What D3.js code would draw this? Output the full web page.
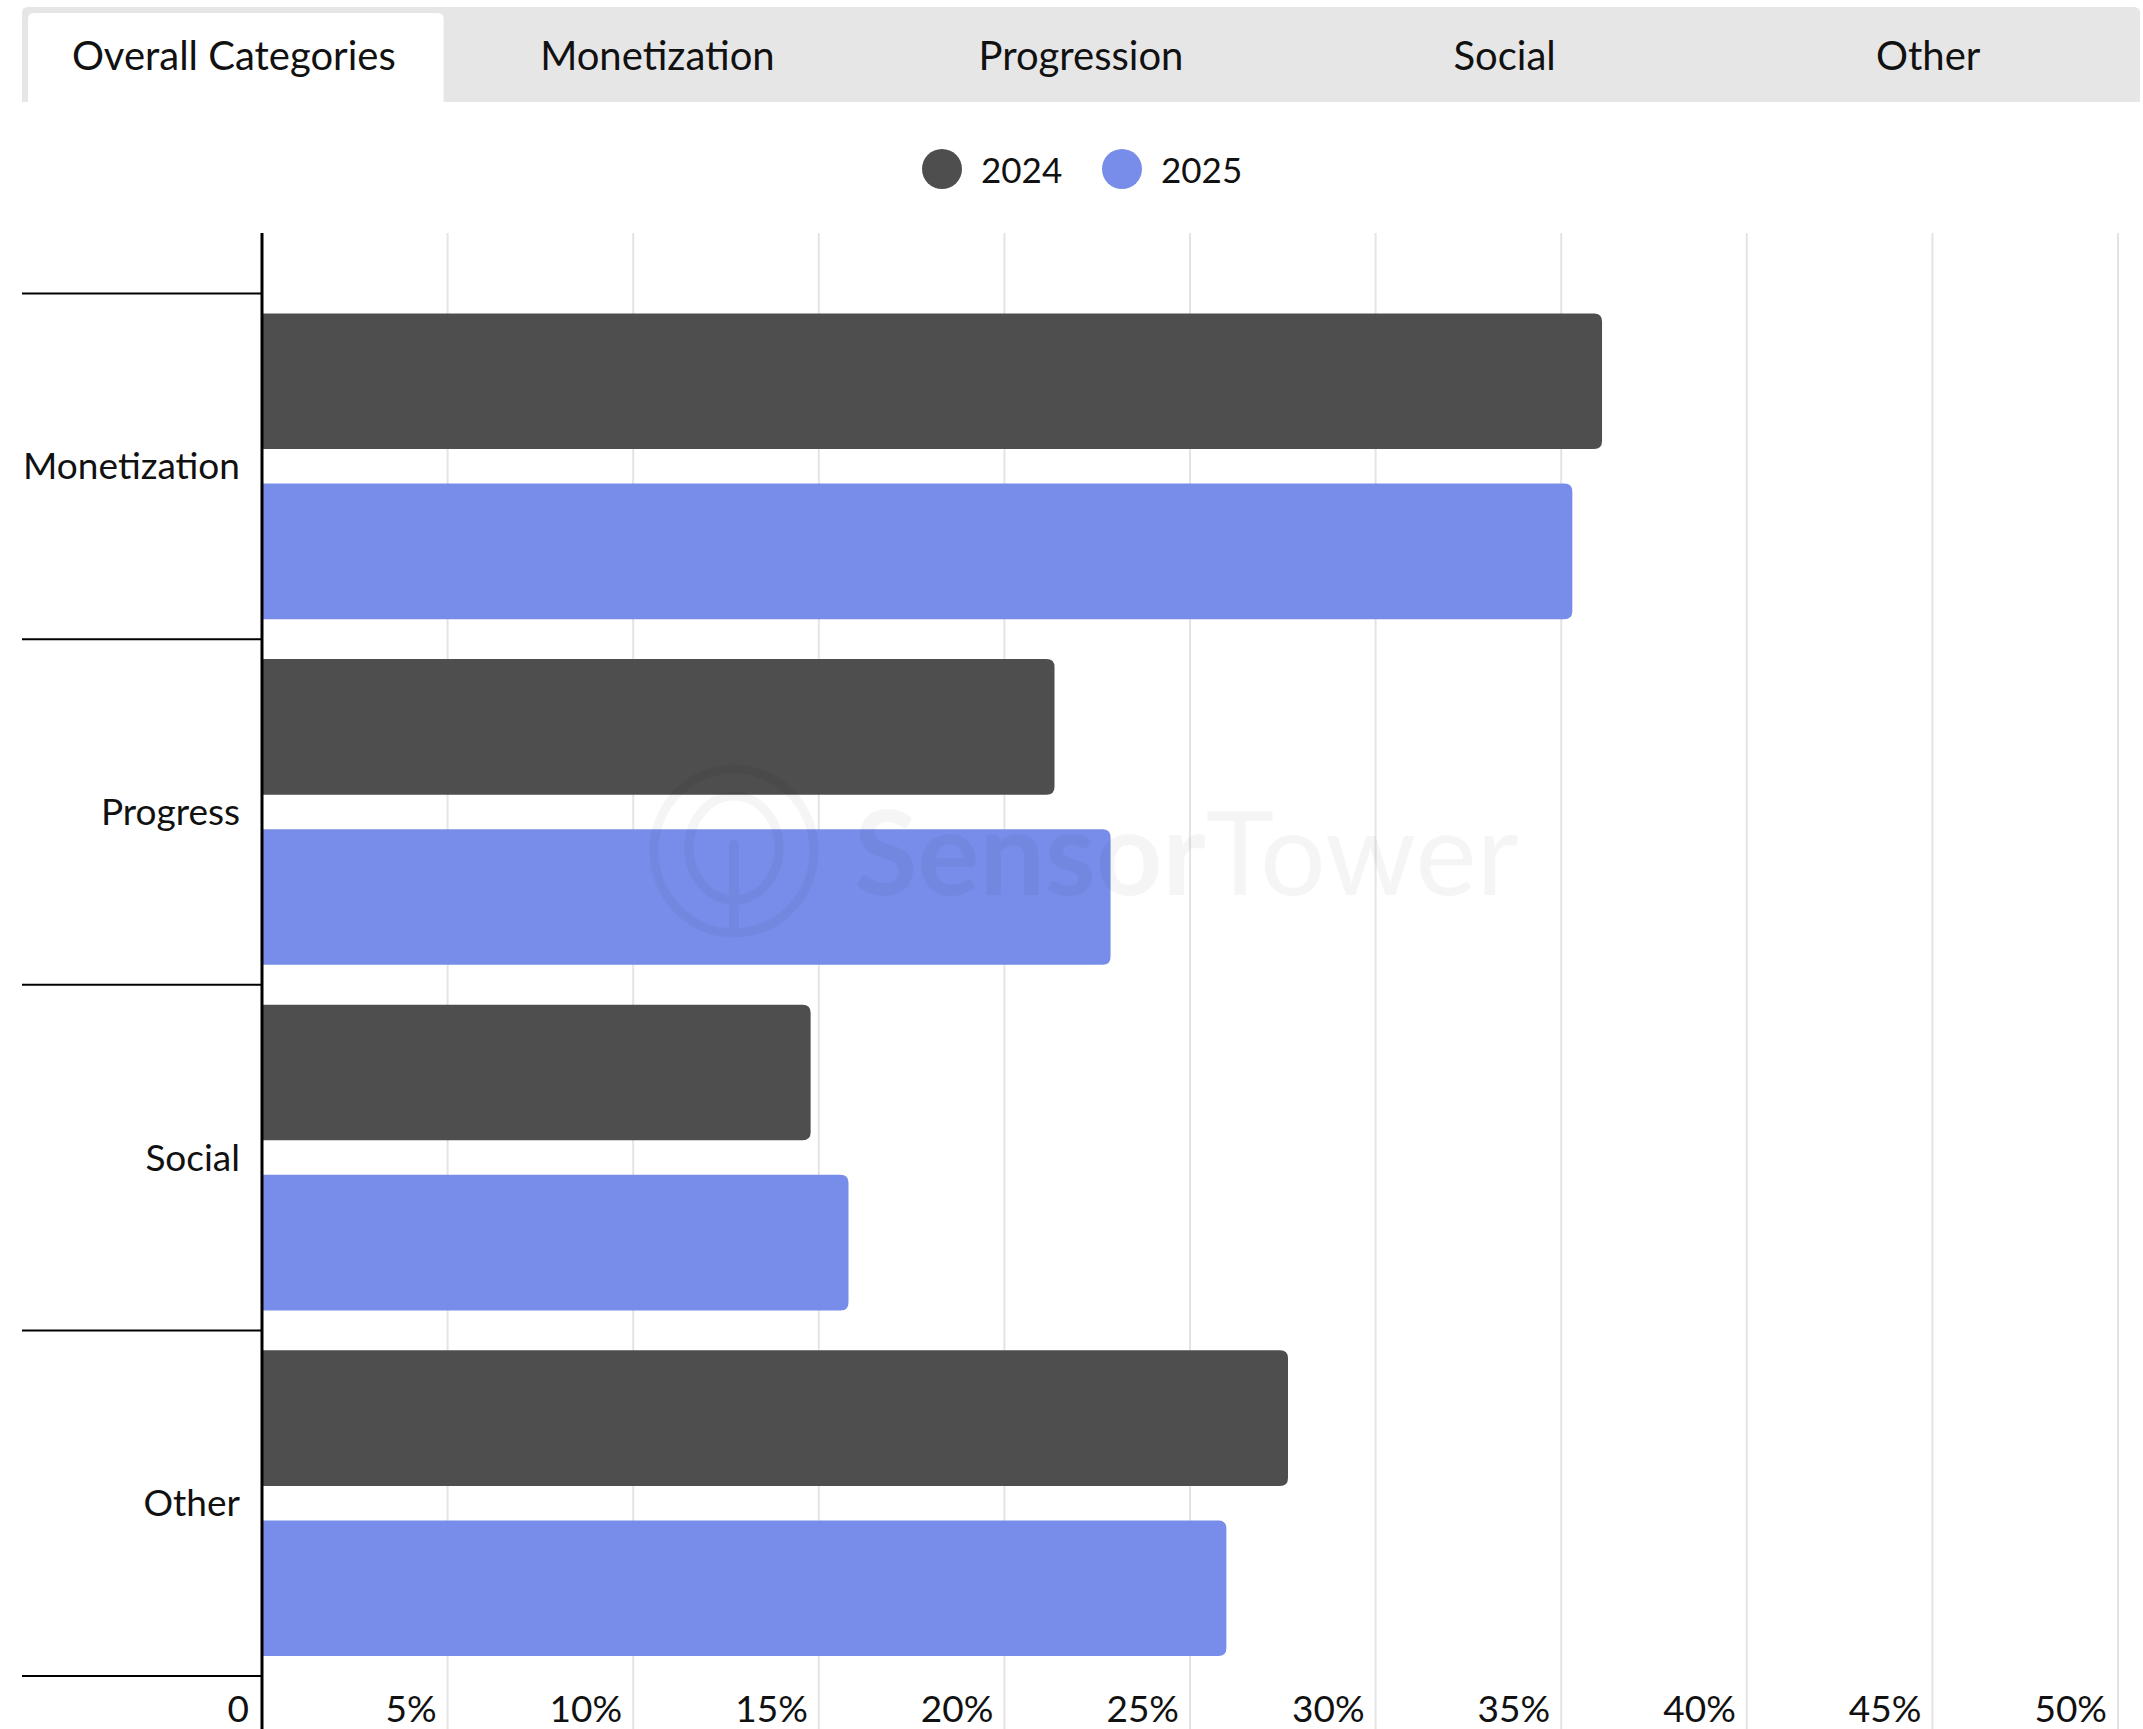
<!DOCTYPE html>
<html>
<head>
<meta charset="utf-8">
<script src="https://cdn.jsdelivr.net/npm/d3@7"></script>
<style>
  html, body { margin: 0; padding: 0; background: #fff; }
  svg { display: block; font-family: Lato, "Noto Sans", sans-serif; }
</style>
</head>
<body>
<svg id="chart" width="2143" height="1729"></svg>
<script>
// ---- data ----
const tabs = ["Overall Categories", "Monetization", "Progression", "Social", "Other"];
const categories = ["Monetization", "Progress", "Social", "Other"];
const years = ["2024", "2025"];
const values2024 = [36.1, 21.35, 14.78, 27.64];
const values2025 = [35.3, 22.86, 15.8, 25.98];
const tickValues = [0, 5, 10, 15, 20, 25, 30, 35, 40, 45, 50];
const tickLabels = ["0", "5%", "10%", "15%", "20%", "25%", "30%", "35%", "40%", "45%", "50%"];
const colors = ["#4e4e4e", "#778de9"];

const W = 2143, H = 1729;
const svg = d3.select("#chart");

// ---- tabs ----
const tabX = d3.scaleBand().domain(tabs).range([22, 2140]);
svg.append("path")
  .attr("d", `M22,102 V13 Q22,7 28,7 H2134 Q2140,7 2140,13 V102 Z`)
  .attr("fill", "#e6e6e6");
const t0 = tabX(tabs[0]);
svg.append("path")
  .attr("d", `M${t0 + 6},103 V19 Q${t0 + 6},13 ${t0 + 12},13 H${t0 + tabX.bandwidth() - 8} Q${t0 + tabX.bandwidth() - 2},13 ${t0 + tabX.bandwidth() - 2},19 V103 Z`)
  .attr("fill", "#ffffff");
svg.append("g").selectAll("text").data(tabs).join("text")
  .attr("x", d => tabX(d) + tabX.bandwidth() / 2)
  .attr("y", 70)
  .attr("text-anchor", "middle")
  .attr("font-size", 40)
  .attr("fill", "#111")
  .text(d => d);

// ---- legend ----
const legendX = [942, 1122];
const lg = svg.append("g");
years.forEach((y, i) => {
  lg.append("circle").attr("cx", legendX[i]).attr("cy", 169).attr("r", 20).attr("fill", colors[i]);
  lg.append("text").attr("x", legendX[i] + 39).attr("y", 183)
    .attr("font-size", 35).attr("fill", "#111").text(y);
});

// ---- scales ----
const x = d3.scaleLinear().domain([0, 50]).range([262, 2118]);
const y = d3.scaleBand().domain(categories).range([293.5, 1676]).paddingInner(0).paddingOuter(0);
const yi = d3.scaleBand().domain(years).range([0, y.bandwidth()]).paddingInner(0.2024).paddingOuter(0.117);

// ---- grid ----
svg.append("g").selectAll("line").data(tickValues.filter(v => v > 0)).join("line")
  .attr("x1", d => x(d)).attr("x2", d => x(d))
  .attr("y1", 233).attr("y2", H)
  .attr("stroke", "#e4e4e4").attr("stroke-width", 2);

// ---- bars ----
const r = 8;
function barPath(x0, x1, y0, h) {
  const rr = Math.min(r, (x1 - x0));
  return `M${x0},${y0} H${x1 - rr} Q${x1},${y0} ${x1},${y0 + rr} V${y0 + h - rr} Q${x1},${y0 + h} ${x1 - rr},${y0 + h} H${x0} Z`;
}
const series = [values2024, values2025];
series.forEach((vals, si) => {
  svg.append("g").selectAll("path").data(categories).join("path")
    .attr("d", (c, i) => barPath(x(0), x(vals[i]), y(c) + yi(years[si]), yi.bandwidth()))
    .attr("fill", colors[si]);
});

// ---- watermark ----
const wm = svg.append("g").attr("opacity", 0.035).attr("fill", "#000");
wm.append("ellipse").attr("cx", 734).attr("cy", 851).attr("rx", 80).attr("ry", 82)
  .attr("fill", "none").attr("stroke", "#000").attr("stroke-width", 9);
wm.append("ellipse").attr("cx", 734).attr("cy", 848).attr("rx", 45).attr("ry", 52)
  .attr("fill", "none").attr("stroke", "#000").attr("stroke-width", 9);
wm.append("line").attr("x1", 734).attr("x2", 734).attr("y1", 845).attr("y2", 930)
  .attr("stroke", "#000").attr("stroke-width", 10).attr("stroke-linecap", "round");
const wt = wm.append("text").attr("x", 854).attr("y", 895).attr("font-size", 116);
wt.append("tspan").attr("font-weight", 700).text("Sensor");
wt.append("tspan").attr("font-weight", 400).text("Tower");

// ---- left separators & labels ----
svg.append("g").selectAll("line").data(d3.range(categories.length + 1)).join("line")
  .attr("x1", 22).attr("x2", 262)
  .attr("y1", i => 293.5 + i * y.step()).attr("y2", i => 293.5 + i * y.step())
  .attr("stroke", "#000").attr("stroke-width", 2);
svg.append("g").selectAll("text").data(categories).join("text")
  .attr("x", 240)
  .attr("y", d => y(d) + y.bandwidth() / 2 + 13)
  .attr("text-anchor", "end")
  .attr("font-size", 37)
  .attr("fill", "#111")
  .text(d => d);

// ---- x axis labels ----
svg.append("g").selectAll("text").data(tickValues).join("text")
  .attr("x", (d, i) => x(d) - (i === 0 ? 13 : 11))
  .attr("y", 1722)
  .attr("text-anchor", "end")
  .attr("font-size", 37)
  .attr("fill", "#111")
  .text((d, i) => tickLabels[i]);

// ---- y axis line ----
svg.append("line").attr("x1", 262).attr("x2", 262).attr("y1", 233).attr("y2", H)
  .attr("stroke", "#000").attr("stroke-width", 3);
</script>
</body>
</html>
